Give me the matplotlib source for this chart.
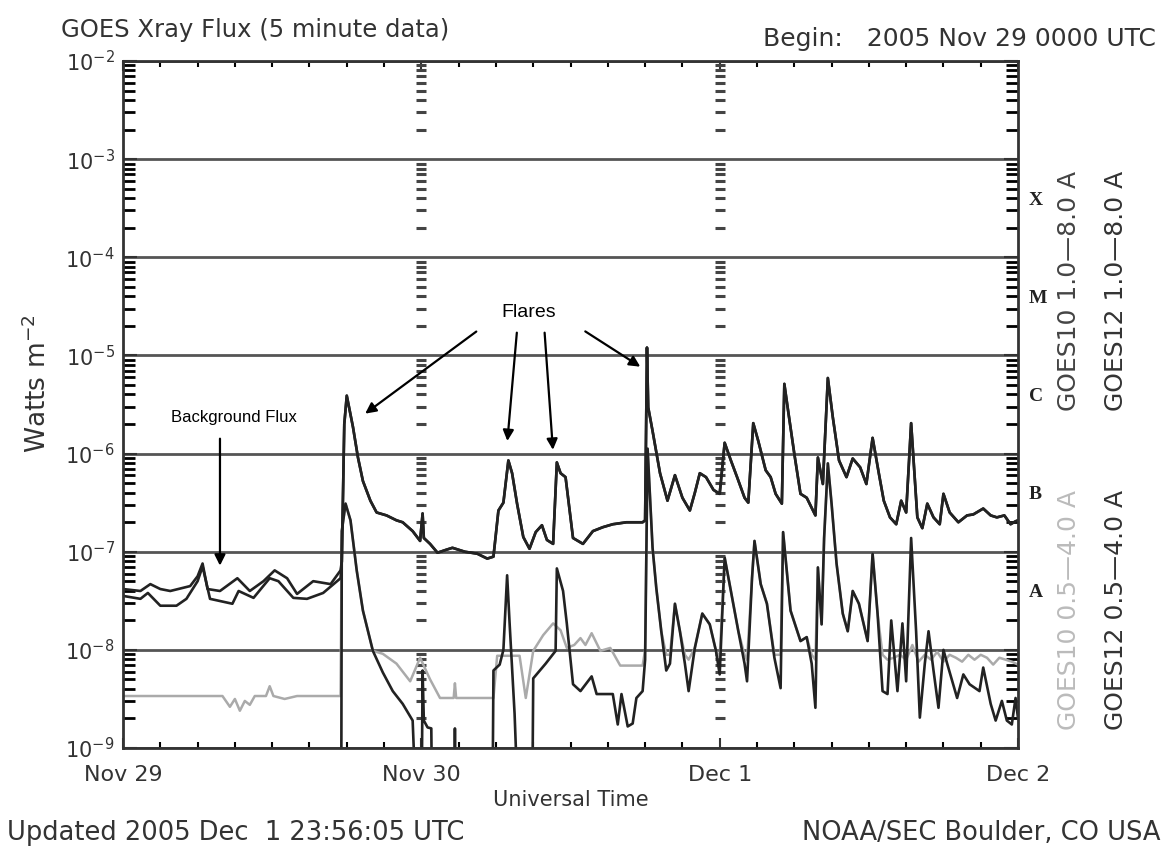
import numpy as np
import matplotlib
matplotlib.use("Agg")
import matplotlib.pyplot as plt
from matplotlib.ticker import NullFormatter, FixedLocator, MultipleLocator
import matplotlib.transforms as mtransforms

# hours since 2005 Nov 29 0000 UTC, log10 of flux in W m^-2
# -10 means the trace is below the bottom of the plot

# long channel 1.0-8.0 A, before the first flare the two satellites differ
t_long_g12_pre = [0, 1.4, 2.2, 3.0, 3.8, 5.4, 6.0, 6.4, 6.8, 7.8,
                  9.2, 10.2, 11.3, 12.2, 13.2, 14.0, 15.3, 16.7, 17.5]
lg_long_g12_pre = [-7.38, -7.40, -7.33, -7.38, -7.40, -7.35, -7.25, -7.12, -7.38, -7.40,
                   -7.27, -7.40, -7.30, -7.19, -7.27, -7.43, -7.30, -7.33, -7.19]
t_long_g10_pre = [0, 1.4, 2.0, 3.0, 4.3, 5.1, 6.0, 6.4, 7.0, 8.8,
                  9.3, 10.5, 11.8, 12.5, 13.7, 14.8, 16.1, 17.5]
lg_long_g10_pre = [-7.45, -7.48, -7.42, -7.55, -7.55, -7.48, -7.30, -7.15, -7.48, -7.53,
                   -7.40, -7.47, -7.27, -7.30, -7.47, -7.48, -7.42, -7.27]

# after the first flare both long-channel traces lie on top of each other
t_long_post = [17.6, 17.8, 18.0, 18.5, 18.9, 19.3, 19.9, 20.4, 21.2, 22.0,
               22.5, 23.3, 23.9, 24.1, 24.2, 24.7, 25.3, 26.0, 26.5, 27.5,
               28.5, 29.3, 29.8, 30.2, 30.6, 31.0, 31.3, 31.7, 32.2, 32.7,
               33.2, 33.7, 34.1, 34.6, 34.9, 35.2, 35.6, 36.2, 37.0, 37.8,
               38.6, 39.4, 40.5, 41.8, 42.0, 42.15, 42.25, 42.6, 43.2, 43.8,
               44.4, 45.0, 45.6, 46.0, 46.4, 46.9, 47.5, 48.0, 48.4, 48.9,
               49.4, 50.0, 50.3, 50.7, 51.1, 51.7, 52.1, 52.5, 53.0, 53.2,
               53.5, 54.0, 54.5, 55.0, 55.7, 55.9, 56.3, 56.7, 57.1, 57.6,
               58.2, 58.7, 59.3, 59.8, 60.3, 60.8, 61.2, 61.7, 62.2, 62.6,
               63.0, 63.4, 63.9, 64.3, 64.7, 65.2, 65.7, 66.0, 66.5, 67.2,
               67.9, 68.4, 69.2, 69.8, 70.3, 70.9, 71.4, 71.8, 72.0]
lg_long_post = [-7.10, -5.70, -5.41, -5.73, -6.04, -6.28, -6.48, -6.60, -6.63, -6.68,
                -6.70, -6.79, -6.89, -6.61, -6.86, -6.92, -7.01, -6.98, -6.96, -7.00,
                -7.02, -7.07, -7.05, -6.58, -6.50, -6.07, -6.20, -6.51, -6.85, -6.97,
                -6.80, -6.73, -6.88, -6.92, -6.09, -6.20, -6.24, -6.86, -6.92, -6.79,
                -6.75, -6.72, -6.70, -6.70, -6.68, -4.92, -5.53, -5.77, -6.20, -6.48,
                -6.22, -6.45, -6.58, -6.40, -6.20, -6.24, -6.37, -6.41, -5.89, -6.07,
                -6.24, -6.45, -6.50, -5.69, -5.87, -6.17, -6.24, -6.41, -6.51, -5.29,
                -5.56, -6.00, -6.41, -6.45, -6.63, -6.04, -6.31, -5.23, -5.63, -6.07,
                -6.24, -6.05, -6.14, -6.31, -5.84, -6.20, -6.48, -6.65, -6.72, -6.48,
                -6.60, -5.69, -6.65, -6.76, -6.51, -6.65, -6.72, -6.41, -6.60, -6.70,
                -6.63, -6.62, -6.56, -6.63, -6.65, -6.63, -6.72, -6.69, -6.68]

# short channel 0.5-4.0 A, GOES12 (black)
t_short_g12 = [17.55, 17.6, 17.9, 18.3, 18.8, 19.3, 20.1, 20.9, 21.7, 22.5,
               23.3, 23.7, 24.0, 24.1, 24.2, 24.5, 24.8, 24.9, 26.6, 26.7,
               26.8, 29.7, 29.8, 30.3, 30.6, 30.9, 31.1, 31.5, 31.9, 32.9,
               33.0, 34.0, 34.8, 34.9, 35.4, 35.7, 36.2, 36.8, 37.7, 38.1,
               39.4, 39.8, 40.1, 40.6, 41.0, 41.3, 41.8, 42.0, 42.2, 42.6,
               42.9, 43.3, 43.7, 44.0, 44.4, 44.8, 45.2, 45.5, 46.0, 46.6,
               47.2, 47.7, 48.0, 48.4, 48.9, 49.5, 50.0, 50.2, 50.6, 50.8,
               51.3, 51.8, 52.4, 52.9, 53.1, 53.7, 54.5, 55.0, 55.4, 55.7,
               55.9, 56.2, 56.4, 56.7, 57.0, 57.4, 57.9, 58.3, 58.7, 59.2,
               59.9, 60.3, 60.7, 61.1, 61.5, 61.8, 62.3, 62.7, 63.0, 63.4,
               63.8, 64.1, 64.5, 64.8, 65.2, 65.6, 66.0, 66.3, 67.1, 67.6,
               68.1, 68.9, 69.2, 69.8, 70.2, 70.7, 71.1, 71.5, 71.8, 72.0]
lg_short_g12 = [-10, -6.79, -6.51, -6.68, -7.19, -7.60, -8.01, -8.23, -8.42, -8.55,
                -8.72, -10, -10, -8.21, -8.72, -8.79, -8.80, -10, -10, -8.80,
                -10, -10, -8.21, -8.15, -8.00, -7.24, -7.73, -8.65, -10, -10,
                -8.29, -8.14, -8.01, -7.17, -7.40, -7.73, -8.35, -8.42, -8.27, -8.45,
                -8.45, -8.76, -8.45, -8.78, -8.75, -8.49, -8.42, -8.10, -5.95, -6.96,
                -7.37, -7.81, -8.21, -8.14, -7.53, -7.81, -8.14, -8.42, -7.98, -7.63,
                -7.74, -8.01, -8.25, -7.06, -7.40, -7.81, -8.14, -8.32, -7.27, -6.89,
                -7.33, -7.53, -8.08, -8.39, -6.80, -7.60, -7.91, -7.87, -8.14, -8.59,
                -7.16, -7.74, -6.86, -6.10, -6.51, -7.12, -7.63, -7.81, -7.40, -7.53,
                -7.91, -7.02, -7.63, -8.42, -8.45, -7.70, -8.42, -7.73, -8.32, -6.86,
                -7.81, -8.69, -8.14, -7.81, -8.21, -8.59, -8.00, -8.14, -8.49, -8.25,
                -8.35, -8.42, -8.18, -8.55, -8.72, -8.52, -8.72, -8.76, -8.49, -8.70]

# short channel 0.5-4.0 A, GOES10 (light grey)
t_short_g10 = [0, 8.0, 8.6, 9.0, 9.4, 9.8, 10.2, 10.6, 11.5, 11.8,
               12.1, 13.0, 14.0, 17.5, 17.6, 17.9, 18.3, 18.8, 19.3, 20.1,
               20.9, 22.0, 23.1, 23.9, 24.7, 25.5, 26.6, 26.7, 26.8, 29.8,
               30.1, 31.9, 32.4, 33.0, 33.8, 34.6, 35.2, 35.7, 36.3, 36.8,
               37.2, 37.7, 38.4, 39.2, 40.0, 41.8, 42.0, 42.2, 42.6, 42.9,
               43.3, 43.7, 44.0, 44.4, 44.8, 45.2, 45.5, 46.0, 46.6, 47.2,
               47.7, 48.0, 48.4, 48.9, 49.5, 50.0, 50.2, 50.6, 50.8, 51.3,
               51.8, 52.4, 52.9, 53.1, 53.7, 54.5, 55.0, 55.4, 55.7, 55.9,
               56.2, 56.4, 56.7, 57.0, 57.4, 57.9, 58.3, 58.7, 59.2, 59.9,
               60.3, 60.7, 61.1, 61.5, 62.0, 62.5, 63.0, 63.5, 64.0, 64.5,
               65.0, 65.5, 66.0, 66.5, 67.0, 67.5, 68.0, 68.5, 69.0, 69.5,
               70.0, 70.5, 71.0, 71.5, 72.0]
lg_short_g10 = [-8.47, -8.47, -8.58, -8.50, -8.62, -8.52, -8.56, -8.47, -8.47, -8.37,
                -8.47, -8.50, -8.47, -8.47, -6.79, -6.51, -6.68, -7.19, -7.60, -8.01,
                -8.04, -8.14, -8.32, -8.08, -8.30, -8.49, -8.49, -8.34, -8.49, -8.49,
                -8.06, -8.06, -8.49, -8.01, -7.85, -7.73, -7.80, -7.98, -7.95, -7.88,
                -7.95, -7.83, -8.01, -7.98, -8.16, -8.16, -8.00, -5.95, -6.96, -7.37,
                -7.81, -8.05, -8.05, -7.53, -7.81, -8.05, -8.10, -7.98, -7.63, -7.74,
                -8.01, -8.08, -7.06, -7.40, -7.81, -8.05, -8.10, -7.27, -6.89, -7.33,
                -7.53, -8.05, -8.05, -6.80, -7.60, -7.91, -7.87, -8.05, -8.10, -7.16,
                -7.74, -6.86, -6.10, -6.51, -7.12, -7.63, -7.81, -7.40, -7.53, -7.91,
                -7.02, -7.63, -8.05, -8.10, -8.08, -8.05, -8.10, -7.95, -8.12, -8.05,
                -8.10, -8.02, -8.12, -8.05, -8.08, -8.12, -8.05, -8.10, -8.05, -8.08,
                -8.15, -8.08, -8.10, -8.12, -8.15]

day_ticks = [0, 24, 48, 72]
day_labels = ["Nov 29", "Nov 30", "Dec 1", "Dec 2"]
class_letters = ["X", "M", "C", "B", "A"]

ink = "#333333"
plt.rcParams['mathtext.fontset'] = 'dejavusans'

fig = plt.figure(figsize=(11.66, 8.55), dpi=100)
ax = fig.add_axes([0.1055, 0.1251, 0.7676, 0.8036])
ax.set_yscale('log')
ax.set_xlim(0, 72)
ax.set_ylim(1e-9, 1e-2)

# tick positions only inside the plotted range
decades = [10.0 ** k for k in range(-9, -1)]
minor_y = [m * 10.0 ** k for k in range(-9, -2) for m in range(2, 10)]

# decade lines
ax.grid(axis='y', which='major', color='#555555', lw=2)
ax.set_axisbelow(True)

# dotted day markers built from little tick dashes
for d in day_ticks[1:3]:
    ax.plot([d] * len(minor_y), minor_y, ls='', marker='_', ms=7, mew=2.2, color='#444444')

# data
t_g12_long = t_long_g12_pre + t_long_post
f_g12_long = 10.0 ** np.array(lg_long_g12_pre + lg_long_post)
t_g10_long = t_long_g10_pre + t_long_post
f_g10_long = 10.0 ** np.array(lg_long_g10_pre + lg_long_post)

ax.plot(t_short_g10, 10.0 ** np.array(lg_short_g10), color='#aaaaaa', lw=1.8)
ax.plot(t_g10_long, f_g10_long, color='#222222', lw=1.9)
ax.plot(t_g12_long, f_g12_long, color='#222222', lw=1.9)
ax.plot(t_short_g12, 10.0 ** np.array(lg_short_g12), color='#222222', lw=1.9)

# ticks
ax.xaxis.set_major_locator(FixedLocator(day_ticks))
ax.xaxis.set_minor_locator(MultipleLocator(3))
ax.set_xticklabels(day_labels, fontsize=16, color=ink)
ax.yaxis.set_major_locator(FixedLocator(decades))
ax.yaxis.set_minor_locator(FixedLocator(minor_y))
ax.yaxis.set_minor_formatter(NullFormatter())
ax.tick_params(axis='x', which='major', direction='in', length=7, width=1.5,
               top=True, bottom=True, pad=12, colors=ink)
ax.tick_params(axis='x', which='minor', direction='in', length=4.5, width=1.5,
               top=True, bottom=True)
ax.tick_params(axis='y', which='major', direction='in', length=10, width=1.5,
               left=True, right=True, labelsize=15, colors=ink, pad=6)
ax.tick_params(axis='y', which='minor', direction='in', length=8.5, width=2,
               left=True, right=True)
for s in ax.spines.values():
    s.set_linewidth(2)
    s.set_color('#333333')

ax.set_xlabel("Universal Time", fontsize=15, color=ink, labelpad=4)
ax.set_ylabel("Watts m$^{-2}$", fontsize=19, color=ink)
ax.yaxis.set_label_coords(-0.079, 0.53)

# right side labels
trans = mtransforms.blended_transform_factory(ax.transAxes, ax.transData)
for i, letter in enumerate(class_letters):
    ax.text(1.012, 10 ** (-3.42 - i), letter, transform=trans, fontsize=14,
            fontweight='bold', family='Liberation Serif', color='#222222',
            va='center', ha='left')

ax.text(1.057, 10 ** -4.34, "GOES10 1.0\u20148.0 A", transform=trans, rotation=90,
        fontsize=18, color='#444444', va='center', ha='center')
ax.text(1.109, 10 ** -4.34, "GOES12 1.0\u20148.0 A", transform=trans, rotation=90,
        fontsize=18, color='#333333', va='center', ha='center')
ax.text(1.057, 10 ** -7.59, "GOES10 0.5\u20144.0 A", transform=trans, rotation=90,
        fontsize=18, color='#bbbbbb', va='center', ha='center')
ax.text(1.109, 10 ** -7.59, "GOES12 0.5\u20144.0 A", transform=trans, rotation=90,
        fontsize=18, color='#333333', va='center', ha='center')

# annotations
ax.text(8.9, 10 ** -5.63, "Background Flux", fontsize=12, family='Liberation Sans',
        ha='center', va='center', color='black')
ax.annotate("", xy=(7.8, 10 ** -7.17), xytext=(7.8, 10 ** -5.82),
            arrowprops=dict(arrowstyle='-|>', color='black', lw=1.6, mutation_scale=16))
ax.text(32.6, 10 ** -4.56, "Flares", fontsize=14, family='Liberation Sans',
        ha='center', va='center', color='black')
flare_tails = [(28.6, -4.74), (31.7, -4.74), (33.9, -4.74), (37.0, -4.74)]
flare_heads = [(19.3, -5.61), (30.9, -5.90), (34.6, -5.99), (41.8, -5.13)]
for (tx, ty), (hx, hy) in zip(flare_tails, flare_heads):
    ax.annotate("", xy=(hx, 10 ** hy), xytext=(tx, 10 ** ty),
                arrowprops=dict(arrowstyle='-|>', color='black', lw=1.6, mutation_scale=16))

# header / footer
fig.text(0.052, 0.965, "GOES Xray Flux (5 minute data)", fontsize=17.5, color=ink,
         ha='left', va='center')
fig.text(0.991, 0.954, "Begin:   2005 Nov 29 0000 UTC", fontsize=18, color=ink,
         ha='right', va='center')
fig.text(0.006, 0.026, "Updated 2005 Dec  1 23:56:05 UTC", fontsize=18.5, color=ink,
         ha='left', va='center')
fig.text(0.995, 0.026, "NOAA/SEC Boulder, CO USA", fontsize=18.5, color=ink,
         ha='right', va='center')

fig.savefig("out.png", dpi=100)
